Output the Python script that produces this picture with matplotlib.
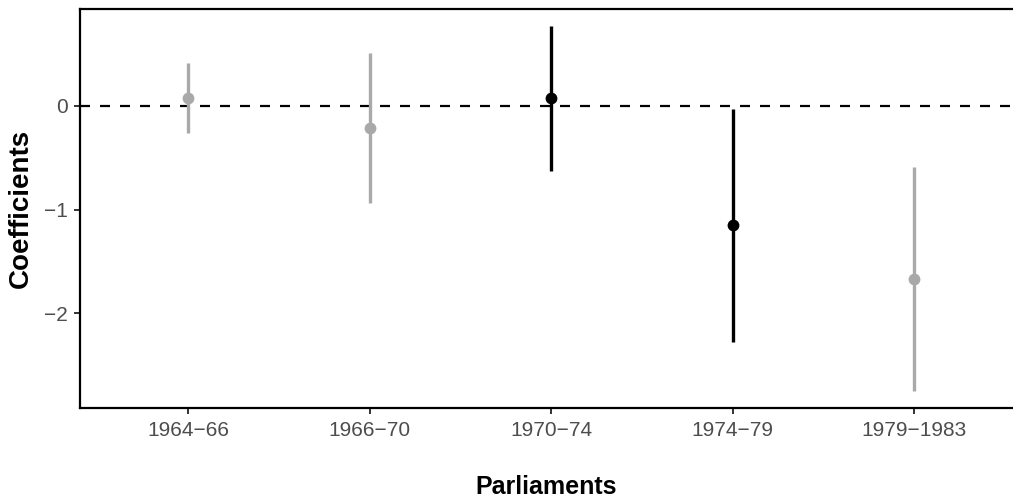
import matplotlib
matplotlib.use("Agg")
import matplotlib.pyplot as plt

plt.rcParams['font.family'] = ['Liberation Sans', 'DejaVu Sans']

# coefficient estimates with confidence bounds per parliament
parliaments = ["1964\u221266", "1966\u221270", "1970\u221274", "1974\u221279", "1979\u22121983"]
estimates = [0.07, -0.22, 0.07, -1.15, -1.67]
lower = [-0.26, -0.94, -0.63, -2.27, -2.75]
upper = [0.41, 0.51, 0.77, -0.03, -0.59]
significant = [False, False, True, True, False]


def main():
    fig = plt.figure(figsize=(10.13, 5.0), dpi=100)
    ax = fig.add_axes([0.079, 0.184, 0.921, 0.798])

    xs = list(range(1, len(parliaments) + 1))
    ax.axhline(0, color='black', lw=1.6, dashes=(4.5, 4.5), zorder=1)

    for x, est, lo, hi, sig in zip(xs, estimates, lower, upper, significant):
        col = 'black' if sig else '#A9A9A9'
        ax.vlines(x, lo, hi, color=col, lw=2.4, zorder=2)
        ax.plot(x, est, 'o', color=col, ms=8.5, mec='none', zorder=3)

    ax.set_xlim(0.405, 5.545)
    ax.set_ylim(-2.91, 0.93)
    ax.set_xticks(xs)
    ax.set_xticklabels(parliaments)
    ax.set_yticks([0, -1, -2])
    ax.set_yticklabels(["0", "\u22121", "\u22122"])

    for side in ['left', 'bottom', 'top']:
        ax.spines[side].set_linewidth(1.6)
        ax.spines[side].set_color('black')
    ax.spines['right'].set_visible(False)

    ax.tick_params(axis='both', length=4, width=1.4, color='#333333',
                   labelcolor='#4D4D4D', labelsize=15, pad=5)

    ax.set_xlabel("Parliaments", fontsize=18, fontweight='bold', va='center')
    ax.set_ylabel("Coefficients", fontsize=20, fontweight='bold', va='center')
    ax.xaxis.set_label_coords(0.5, -0.198)
    ax.yaxis.set_label_coords(-0.063, 0.5)

    fig.savefig("out.png", dpi=100)


if __name__ == "__main__":
    main()
